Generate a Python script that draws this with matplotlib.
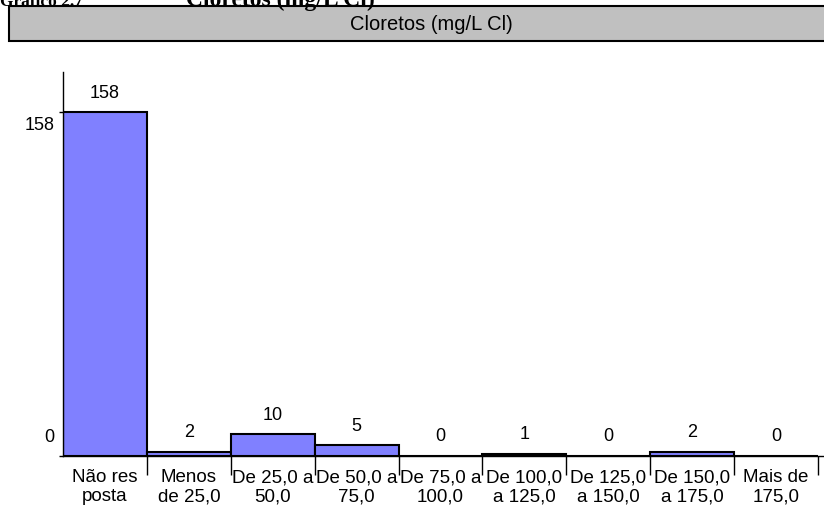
import matplotlib
matplotlib.use("Agg")
import matplotlib.pyplot as plt
import matplotlib.transforms as mtransforms
from matplotlib.patches import Rectangle

plt.rcParams['font.family'] = ['Liberation Sans', 'DejaVu Sans']

categories = ["Não res\nposta", "Menos\nde 25,0", "De 25,0 a\n50,0", "De 50,0 a\n75,0",
              "De 75,0 a\n100,0", "De 100,0\na 125,0", "De 125,0\na 150,0",
              "De 150,0\na 175,0", "Mais de\n175,0"]
counts = [158, 2, 10, 5, 0, 1, 0, 2, 0]
ytick_values = [0, 158]
caption_number = "Gráfico 2.7"
caption_dash = "–"
caption_subject = "Cloretos (mg/L Cl)"
box_title = "Cloretos (mg/L Cl)"

W, H = 824, 506
fig = plt.figure(figsize=(W / 100, H / 100), dpi=100)

def fx(px):
    return px / W

def fy(py):
    return 1 - py / H

# Page caption, partly cut by the top edge
caption_style = dict(fontweight='bold', family='Liberation Serif', va='baseline')
fig.text(fx(0), fy(6), caption_number, fontsize=12.5, ha='left', **caption_style)
fig.text(fx(128), fy(3), caption_dash, fontsize=16, ha='center', **caption_style)
fig.text(fx(375), fy(6), caption_subject, fontsize=17, ha='right', **caption_style)

# Grey header band with the chart title
band = Rectangle((fx(9), fy(42)), fx(860) - fx(9), fy(7) - fy(42),
                 transform=fig.transFigure, facecolor='#C0C0C0',
                 edgecolor='black', linewidth=1.5, clip_on=False)
fig.patches.append(band)
fig.text(fx(431), fy(24.5), box_title, fontsize=14.5, ha='center', va='center')

# Plot area
left, right, top, bottom = 63, 824, 73, 457
ax = fig.add_axes([fx(left), fy(bottom), fx(right) - fx(left), fy(top) - fy(bottom)])
n = len(categories)
ax.set_xlim(0, n * (right - left) / (818 - left))
ax.set_ylim(0, 158 * (bottom - top) / (bottom - 113))

positions = [i + 0.5 for i in range(n)]
ax.bar(positions, counts, width=1.0, color='#8080FF', edgecolor='black', linewidth=1.5)

for x, v in zip(positions, counts):
    ax.annotate(str(v), (x, v), xytext=(0, 14.4), textcoords='offset points',
                ha='center', va='center', fontsize=13)

for side in ('top', 'right'):
    ax.spines[side].set_visible(False)
ax.spines['left'].set_linewidth(1.0)
ax.spines['bottom'].set_linewidth(1.0)

# Category labels centred under each bin, boundary ticks between bins
ax.set_xticks(positions)
ax.set_xticklabels(categories, fontsize=13.5, linespacing=1.12)
ax.tick_params(axis='x', which='major', length=0, pad=9)
ax.set_xticks(list(range(1, n + 1)), minor=True)
ax.tick_params(axis='x', which='minor', length=14, width=1.0, direction='out')

ax.set_yticks(ytick_values)
ax.set_yticklabels([str(v) for v in ytick_values], fontsize=13)
ax.tick_params(axis='y', length=3, width=1.0, pad=3)
shifts = {0: 21, 158: -10}
for lbl, v in zip(ax.get_yticklabels(), ytick_values):
    off = mtransforms.ScaledTranslation(0, shifts[v] / 100, fig.dpi_scale_trans)
    lbl.set_transform(lbl.get_transform() + off)

fig.savefig("out.png", dpi=100)
